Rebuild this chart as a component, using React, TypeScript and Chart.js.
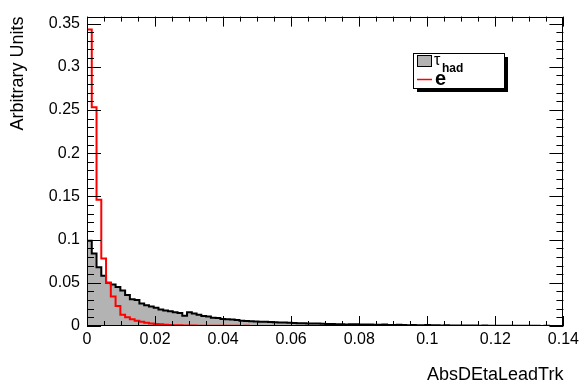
import React, { useEffect, useRef } from 'react';
import { Chart, registerables } from 'chart.js';

Chart.register(...registerables);

const FONT = '"Liberation Sans", Arial, Helvetica, sans-serif';

const X_MIN = 0;
const X_MAX = 0.14;
const BIN_WIDTH = 0.0014;
const Y_MIN = 0;
const Y_MAX = 0.358;
const X_TICKS = [0, 0.02, 0.04, 0.06, 0.08, 0.1, 0.12, 0.14];
const Y_TICKS = [0, 0.05, 0.1, 0.15, 0.2, 0.25, 0.3, 0.35];
const X_MINOR_STEP = 0.005;
const Y_MINOR_STEP = 0.01;
const X_TITLE = 'AbsDEtaLeadTrk';
const Y_TITLE = 'Arbitrary Units';
const LEGEND_TAU = 'τ';
const LEGEND_TAU_SUB = 'had';
const LEGEND_ELE = 'e';

// tau_had histogram (100 bins, 0 - 0.14)
const TAU_VALUES = [
  0.0985, 0.084, 0.068, 0.058, 0.050, 0.048, 0.045, 0.041, 0.036, 0.031,
  0.030, 0.026, 0.024, 0.0226, 0.021, 0.019, 0.018, 0.017, 0.016, 0.015,
  0.012, 0.016, 0.0145, 0.013, 0.0115, 0.011, 0.0095, 0.0092, 0.0080, 0.0078,
  0.0076, 0.0070, 0.0062, 0.0058, 0.0056, 0.0052, 0.0050, 0.0049, 0.0046, 0.0043,
  0.0041, 0.0040, 0.0037, 0.0035, 0.0033, 0.0032, 0.0030, 0.0030, 0.0028, 0.0027,
  0.0022, 0.0024, 0.0020, 0.0019, 0.0018, 0.0021, 0.0019, 0.0017, 0.0016, 0.0018,
  0.0015, 0.0014, 0.0016, 0.0013, 0.0012, 0.0014, 0.0011, 0.0010, 0.0012, 0.0010,
  0.0009, 0.0011, 0.0008, 0.0009, 0.0007, 0.0008, 0.0006, 0.0007, 0.0006, 0.0005,
  0.0006, 0.0005, 0.0004, 0.0005, 0.0004, 0.0003, 0.0004, 0.0003, 0.0003, 0.0002,
  0.0003, 0.0002, 0.0002, 0.0003, 0.0002, 0.0001, 0.0002, 0.0001, 0.0001, 0.0001,
];

// electron histogram (100 bins, 0 - 0.14)
const ELE_VALUES = [
  0.343, 0.253, 0.146, 0.078, 0.050, 0.034, 0.023, 0.013, 0.010, 0.0078,
  0.0060, 0.0048, 0.0038, 0.0030, 0.0024, 0.0019, 0.0015, 0.0012, 0.0010, 0.0008,
  0.0007, 0.0006, 0.0005, 0.0004, 0.0004, 0.0003, 0.0003, 0.0003, 0.0002, 0.0002,
  0.0002, 0.0002, 0.0001, 0.0002, 0.0001, 0.0001, 0.0001, 0.0001, 0.0001, 0.0001,
  0.0001, 0.0001, 0.0001, 0, 0.0001, 0, 0.0001, 0, 0, 0.0001,
  0, 0, 0, 0, 0, 0, 0, 0, 0, 0,
  0, 0, 0, 0, 0, 0, 0, 0, 0, 0,
  0, 0, 0, 0, 0, 0, 0, 0, 0, 0,
  0, 0, 0, 0, 0, 0, 0, 0, 0, 0,
  0, 0, 0, 0, 0, 0, 0, 0, 0, 0,
];

const TAU_FILL = '#b3b3b3';
const ELE_COLOR = '#ff0000';

function toSteps(values: number[]) {
  const pts = values.map((v, i) => ({ x: X_MIN + i * BIN_WIDTH, y: v }));
  pts.push({ x: X_MIN + values.length * BIN_WIDTH, y: values[values.length - 1] });
  return pts;
}

const rootFrame = {
  id: 'rootFrame',
  afterDatasetsDraw(chart: any) {
    const { ctx, chartArea: a, scales } = chart;
    const xs = scales.x;
    const ys = scales.y;
    ctx.save();
    ctx.strokeStyle = '#000';
    ctx.lineWidth = 1;
    ctx.beginPath();
    const nx = Math.round((X_MAX - X_MIN) / X_MINOR_STEP);
    for (let i = 0; i <= nx; i++) {
      const v = X_MIN + i * X_MINOR_STEP;
      const major = X_TICKS.some((t) => Math.abs(t - v) < 1e-9);
      const len = major ? 10 : 5;
      const px = Math.round(xs.getPixelForValue(v)) + 0.5;
      ctx.moveTo(px, a.bottom);
      ctx.lineTo(px, a.bottom - len);
      ctx.moveTo(px, a.top);
      ctx.lineTo(px, a.top + len);
    }
    const ny = Math.floor((Y_MAX - Y_MIN) / Y_MINOR_STEP + 1e-9);
    for (let i = 0; i <= ny; i++) {
      const v = Y_MIN + i * Y_MINOR_STEP;
      const major = Y_TICKS.some((t) => Math.abs(t - v) < 1e-9);
      const len = major ? 14 : 7;
      const py = Math.round(ys.getPixelForValue(v)) + 0.5;
      ctx.moveTo(a.left, py);
      ctx.lineTo(a.left + len, py);
      ctx.moveTo(a.right, py);
      ctx.lineTo(a.right - len, py);
    }
    ctx.stroke();
    ctx.strokeRect(Math.round(a.left) + 0.5, Math.round(a.top) + 0.5, Math.round(a.width) - 1, Math.round(a.height) - 1);

    // legend box (ROOT TLegend style with shadow)
    const lx = 413, ly = 53, lw = 91, lh = 35;
    ctx.fillStyle = '#000';
    ctx.fillRect(lx + 4, ly + 4, lw, lh);
    ctx.fillStyle = '#fff';
    ctx.fillRect(lx, ly, lw, lh);
    ctx.strokeRect(lx + 0.5, ly + 0.5, lw, lh);
    // tau entry
    ctx.fillStyle = TAU_FILL;
    ctx.fillRect(417, 55, 15, 11);
    ctx.strokeRect(417.5, 55.5, 14, 11);
    ctx.fillStyle = '#000';
    ctx.textBaseline = 'alphabetic';
    ctx.textAlign = 'left';
    ctx.font = `16px ${FONT}`;
    ctx.fillText(LEGEND_TAU, 434, 65);
    ctx.font = `bold 12px ${FONT}`;
    ctx.fillText(LEGEND_TAU_SUB, 442, 72);
    // electron entry
    ctx.strokeStyle = ELE_COLOR;
    ctx.lineWidth = 1.5;
    ctx.beginPath();
    ctx.moveTo(417, 79.5);
    ctx.lineTo(432, 79.5);
    ctx.stroke();
    ctx.fillStyle = '#000';
    ctx.font = `bold 20px ${FONT}`;
    ctx.fillText(LEGEND_ELE, 435, 85);
    ctx.restore();
  },
};

export default function App() {
  const ref = useRef<HTMLCanvasElement | null>(null);
  useEffect(() => {
    if (!ref.current) return;
    const chart = new Chart(ref.current, {
      type: 'line',
      data: {
        datasets: [
          {
            label: 'e',
            data: toSteps(ELE_VALUES),
            borderColor: ELE_COLOR,
            borderWidth: 2,
            stepped: 'before',
            pointRadius: 0,
            fill: false,
            order: 1,
          },
          {
            label: 'tau_had',
            data: toSteps(TAU_VALUES),
            borderColor: '#000',
            backgroundColor: TAU_FILL,
            borderWidth: 2,
            stepped: 'before',
            pointRadius: 0,
            fill: 'origin',
            order: 2,
          },
        ],
      },
      options: {
        animation: false,
        responsive: false,
        devicePixelRatio: 1,
        layout: { padding: { left: 0, right: 18, top: 4, bottom: 0 } },
        plugins: { legend: { display: false }, tooltip: { enabled: false } },
        scales: {
          x: {
            type: 'linear',
            min: X_MIN,
            max: X_MAX,
            afterFit: (s: any) => { s.height = 66; },
            afterBuildTicks: (s: any) => { s.ticks = X_TICKS.map((v) => ({ value: v })); },
            grid: { display: false, drawTicks: false },
            border: { display: false },
            ticks: {
              autoSkip: false,
              maxRotation: 0,
              padding: 4,
              color: '#000',
              font: { family: FONT, size: 16 },
              callback: (v: any) => String(v),
            },
            title: {
              display: true,
              text: X_TITLE,
              align: 'end',
              color: '#000',
              font: { family: FONT, size: 18 },
              padding: { top: 0, bottom: 6 },
            },
          },
          y: {
            type: 'linear',
            min: Y_MIN,
            max: Y_MAX,
            afterFit: (s: any) => { s.width = 87; },
            afterBuildTicks: (s: any) => { s.ticks = Y_TICKS.map((v) => ({ value: v })); },
            grid: { display: false, drawTicks: false },
            border: { display: false },
            ticks: {
              autoSkip: false,
              padding: 7,
              color: '#000',
              font: { family: FONT, size: 16 },
              callback: (v: any) => String(v),
            },
            title: {
              display: true,
              text: Y_TITLE,
              align: 'end',
              color: '#000',
              font: { family: FONT, size: 18 },
              padding: { top: 7, bottom: 0 },
            },
          },
        },
      },
      plugins: [rootFrame],
    } as any);
    return () => chart.destroy();
  }, []);
  return (
    <div style={{ position: 'absolute', left: 0, top: 0, width: 583, height: 392, background: '#fff' }}>
      <canvas ref={ref} width={583} height={392} />
    </div>
  );
}
